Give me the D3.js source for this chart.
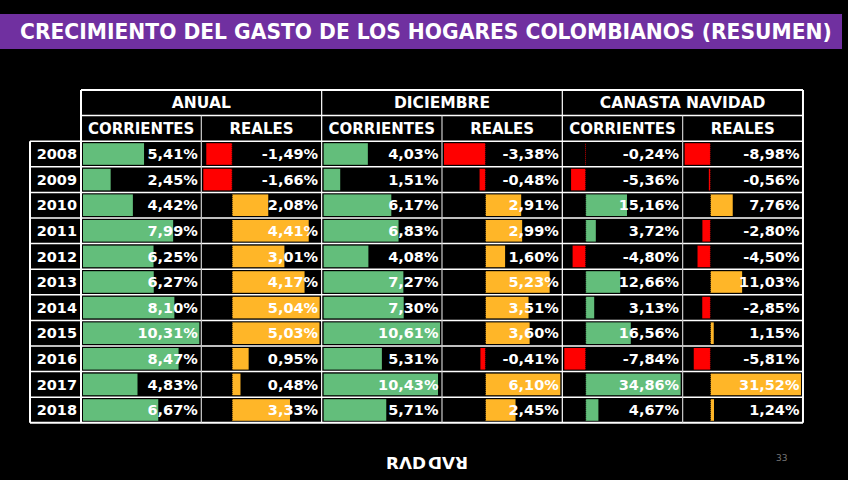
<!DOCTYPE html>
<html>
<head>
<meta charset="utf-8">
<script src="https://cdn.jsdelivr.net/npm/d3@7"></script>
<style>
  body { margin: 0; background: #000; }
  svg { display: block; }
</style>
</head>
<body>
<script>
const years = ["2008", "2009", "2010", "2011", "2012", "2013", "2014", "2015", "2016", "2017", "2018"]
const anualCorrientes = [5.41, 2.45, 4.42, 7.99, 6.25, 6.27, 8.10, 10.31, 8.47, 4.83, 6.67]
const anualReales = [-1.49, -1.66, 2.08, 4.41, 3.01, 4.17, 5.04, 5.03, 0.95, 0.48, 3.33]
const dicCorrientes = [4.03, 1.51, 6.17, 6.83, 4.08, 7.27, 7.30, 10.61, 5.31, 10.43, 5.71]
const dicReales = [-3.38, -0.48, 2.91, 2.99, 1.60, 5.23, 3.51, 3.60, -0.41, 6.10, 2.45]
const navCorrientes = [-0.24, -5.36, 15.16, 3.72, -4.80, 12.66, 3.13, 16.56, -7.84, 34.86, 4.67]
const navReales = [-8.98, -0.56, 7.76, -2.80, -4.50, 11.03, -2.85, 1.15, -5.81, 31.52, 1.24]
const groups = ["ANUAL", "DICIEMBRE", "CANASTA NAVIDAD"]
const subHeaders = ["CORRIENTES", "REALES"]

const columns = [
    { values: anualCorrientes, pos: "#63BE7B" },
    { values: anualReales, pos: "#FFB628" },
    { values: dicCorrientes, pos: "#63BE7B" },
    { values: dicReales, pos: "#FFB628" },
    { values: navCorrientes, pos: "#63BE7B" },
    { values: navReales, pos: "#FFB628" }
]

const W = 848, H = 480
const tLeft = 30, tableX = 81, colW = 120.33
const tTop = 90, rowH = 25.6
const font = "'DejaVu Sans', sans-serif"

const fmt = d3.formatLocale({ decimal: ",", thousands: ".", grouping: [3], currency: ["", ""], minus: "-" }).format(".2%")

const svg = d3.select("body").append("svg")
    .attr("width", W)
    .attr("height", H)
svg.append("rect").attr("width", W).attr("height", H).attr("fill", "#000")

// titulo
svg.append("rect")
    .attr("x", 0).attr("y", 14)
    .attr("width", 842).attr("height", 35)
    .attr("fill", "#7030A0")
const title = svg.append("text")
    .style("font-family", "'DejaVu Sans Condensed', 'DejaVu Sans', sans-serif")
    .style("font-size", "22px")
    .style("font-weight", "bold")
    .attr("fill", "#fff")
    .text("CRECIMIENTO DEL GASTO DE LOS HOGARES COLOMBIANOS (RESUMEN)")
const tw = title.node().getComputedTextLength()
title.attr("transform", `translate(20,38.5) scale(${812 / tw},1)`)

const y = d3.scaleBand().domain(years).range([tTop + 2 * rowH, tTop + 13 * rowH])
const colX = (i) => tableX + i * colW

// encabezados
groups.forEach((g, i) => {
    svg.append("text")
        .attr("x", colX(2 * i) + colW)
        .attr("y", tTop + rowH / 2)
        .attr("dy", "0.36em")
        .attr("text-anchor", "middle")
        .style("font-family", font).style("font-size", "15.5px").style("font-weight", "bold")
        .attr("fill", "#fff")
        .text(g)
})
d3.range(6).forEach((i) => {
    svg.append("text")
        .attr("x", colX(i) + colW / 2)
        .attr("y", tTop + rowH * 1.5)
        .attr("dy", "0.36em")
        .attr("text-anchor", "middle")
        .style("font-family", font).style("font-size", "15px").style("font-weight", "bold")
        .attr("fill", "#fff")
        .text(subHeaders[i % 2])
})

// años
svg.selectAll("text.year")
    .data(years)
    .join("text")
    .attr("class", "year")
    .attr("x", tableX - 4)
    .attr("y", (d) => y(d) + y.bandwidth() / 2)
    .attr("dy", "0.36em")
    .attr("text-anchor", "end")
    .style("font-family", font).style("font-size", "14.5px").style("font-weight", "bold")
    .attr("fill", "#fff")
    .text((d) => d)

// barras de datos
columns.forEach((col, i) => {
    const x0 = colX(i), x1 = colX(i + 1)
    const x = d3.scaleLinear()
        .domain([Math.min(0, d3.min(col.values)), Math.max(0, d3.max(col.values))])
        .range([x0 + 2, x1 - 2])
    const g = svg.append("g")
    g.selectAll("rect")
        .data(col.values)
        .join("rect")
        .attr("x", (d) => Math.min(x(0), x(d)))
        .attr("y", (_, j) => y(years[j]) + 2)
        .attr("width", (d) => Math.abs(x(d) - x(0)))
        .attr("height", y.bandwidth() - 4)
        .attr("fill", (d) => d < 0 ? "#FF0000" : col.pos)
    if (d3.min(col.values) < 0) {
        g.append("line")
            .attr("x1", x(0)).attr("x2", x(0))
            .attr("y1", y.range()[0]).attr("y2", y.range()[1])
            .attr("stroke", "#000")
            .attr("stroke-width", 1)
            .attr("stroke-dasharray", "1,1")
    }
    g.selectAll("text")
        .data(col.values)
        .join("text")
        .attr("x", x1 - 3.5)
        .attr("y", (_, j) => y(years[j]) + y.bandwidth() / 2)
        .attr("dy", "0.36em")
        .attr("text-anchor", "end")
        .style("font-family", font).style("font-size", "14.5px").style("font-weight", "bold")
        .attr("fill", "#fff")
        .text((d) => fmt(d / 100))
})

// bordes
const grid = svg.append("g").attr("stroke", "#fff").attr("fill", "none")
const tBottom = tTop + 13 * rowH
const tRight = colX(6)
// lineas horizontales
d3.range(14).forEach((r) => {
    const yy = tTop + r * rowH
    grid.append("line")
        .attr("x1", r >= 2 ? tLeft : tableX).attr("x2", tRight)
        .attr("y1", yy).attr("y2", yy)
        .attr("stroke-width", r === 0 || r === 13 ? 2 : 1.5)
})
// lineas verticales
grid.append("line").attr("x1", tLeft).attr("x2", tLeft)
    .attr("y1", tTop + 2 * rowH).attr("y2", tBottom).attr("stroke-width", 2)
d3.range(7).forEach((c) => {
    const xx = colX(c)
    grid.append("line")
        .attr("x1", xx).attr("x2", xx)
        .attr("y1", c % 2 === 1 ? tTop + rowH : tTop).attr("y2", tBottom)
        .attr("stroke", c % 2 === 1 ? "#ccc" : "#fff")
        .attr("stroke-width", c === 0 || c === 6 ? 2 : 1.2)
})

// logo
const logo = svg.append("g")
    .style("font-family", "'DejaVu Sans', sans-serif")
    .style("font-size", "16.5px").style("font-weight", "bold")
    .attr("fill", "#fff")
logo.append("text").attr("x", 0).attr("y", 0)
    .attr("transform", "translate(386,469)")
    .attr("textLength", 40).attr("lengthAdjust", "spacingAndGlyphs")
    .text("RΛD")
logo.append("text").attr("x", 0).attr("y", 0)
    .attr("transform", "translate(468,457) rotate(180)")
    .attr("textLength", 40).attr("lengthAdjust", "spacingAndGlyphs")
    .text("RΛD")

svg.append("text")
    .attr("x", 776).attr("y", 461)
    .style("font-family", font).style("font-size", "9px")
    .attr("fill", "#777")
    .text("33")
</script>
</body>
</html>
